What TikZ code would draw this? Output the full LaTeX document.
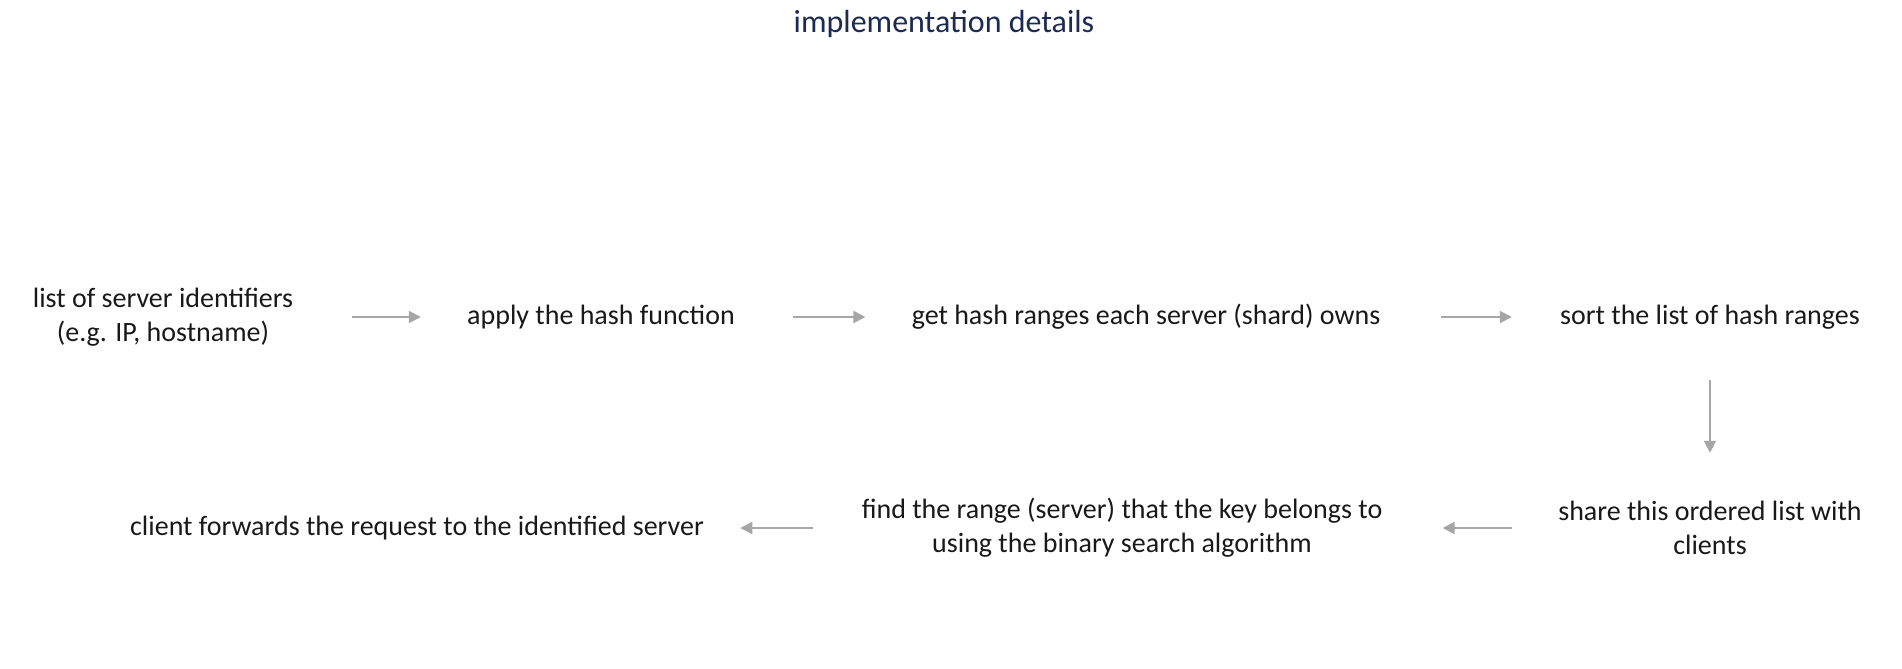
\documentclass[tikz,border=0pt]{standalone}
\usepackage{fontspec}
\setmainfont{Carlito}
\usetikzlibrary{arrows.meta}
\definecolor{titleblue}{HTML}{1C2A52}
\definecolor{arrowgray}{HTML}{A6A6A6}

\begin{document}
\begin{tikzpicture}[x=0.5pt, y=-0.5pt,
    box/.style={inner sep=0pt, align=center, text=black!90, font=\fontsize{14}{17}\selectfont},
    flow/.style={draw=arrowgray, line width=1pt, -{Triangle[length=6pt,width=6pt]}}]
    % slide frame
    \useasboundingbox (0,0) rectangle (1902,669);

    % title
    \node[box, text=titleblue, font=\fontsize{16}{19}\selectfont] (title) at (944,24) {implementation details};

    % top row, left to right
    \node[box] (ids) at (163,317) {list of server identifiers\\(e.g. IP, hostname)};
    \node[box] (hash) at (601,317) {apply the hash function};
    \node[box] (ranges) at (1146,317) {get hash ranges each server (shard) owns};
    \node[box] (sort) at (1710,317) {sort the list of hash ranges};

    % bottom row, right to left
    \node[box] (share) at (1710,528) {share this ordered list with\\clients};
    \node[box] (find) at (1122,528) {find the range (server) that the key belongs to\\using the binary search algorithm};
    \node[box] (fwd) at (417,528) {client forwards the request to the identified server};

    \draw[flow, shorten <=29pt, shorten >=23pt] (ids) -- (hash);
    \draw[flow, shorten <=29pt, shorten >=23pt] (hash) -- (ranges);
    \draw[flow, shorten <=30pt, shorten >=24pt] (ranges) -- (sort);
    \draw[flow, shorten <=25pt, shorten >=24pt] (sort) -- (share);
    \draw[flow, shorten <=23pt, shorten >=30pt] (share) -- (find);
    \draw[flow, shorten <=24pt, shorten >=18pt] (find) -- (fwd);

\end{tikzpicture}
\end{document}
